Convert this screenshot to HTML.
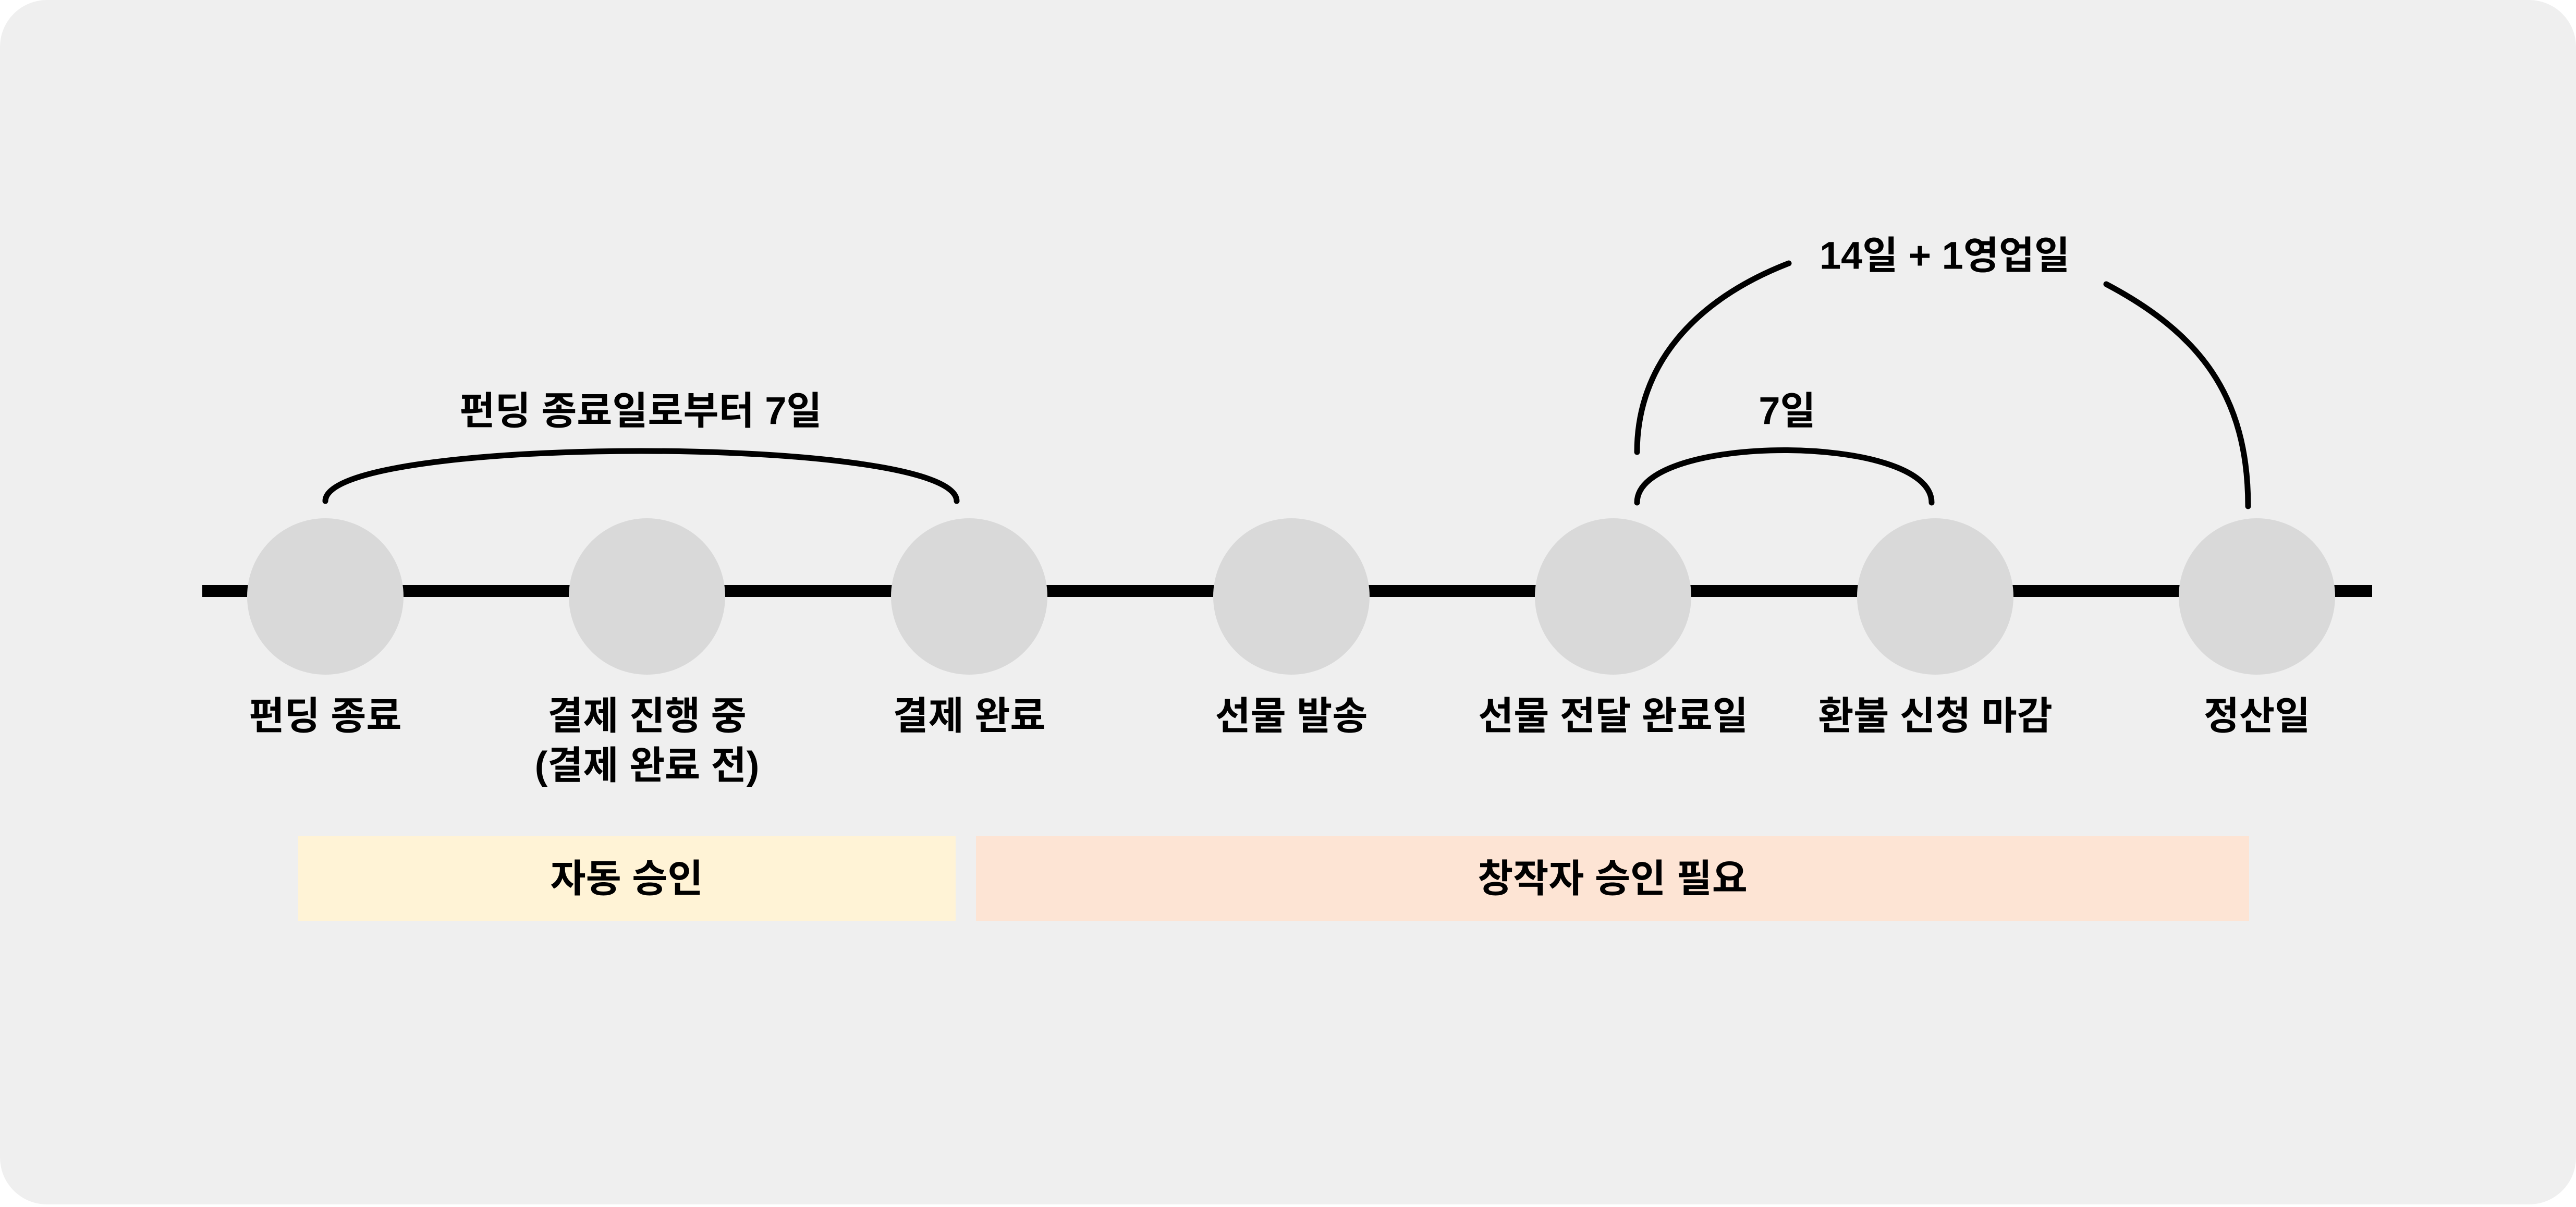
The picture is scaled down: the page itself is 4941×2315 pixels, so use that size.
<!DOCTYPE html>
<html><head><meta charset="utf-8"><style>
html,body{margin:0;padding:0;background:#fff;}
body{width:4941px;height:2310px;overflow:hidden;}
svg text{font-family:"Liberation Sans","Noto Sans CJK KR",sans-serif;font-weight:700;fill:#000;}
</style></head><body>
<svg width="4941" height="2310" viewBox="0 0 4941 2310" xmlns="http://www.w3.org/2000/svg">
<rect x="0" y="0" width="4941" height="2310" rx="90" fill="#efefef"/>
<rect x="388" y="1122" width="4162" height="23" fill="#000"/>
<g fill="#d9d9d9">
<circle cx="624" cy="1144" r="150"/>
<circle cx="1241" cy="1144" r="150"/>
<circle cx="1859" cy="1144" r="150"/>
<circle cx="2477" cy="1144" r="150"/>
<circle cx="3094" cy="1144" r="150"/>
<circle cx="3712" cy="1144" r="150"/>
<circle cx="4329" cy="1144" r="150"/>
</g>
<g fill="none" stroke="#000" stroke-width="11" stroke-linecap="round">
<path d="M624 961 C624 833 1835 833 1835 961"/>
<path d="M3140 964 C3140 830 3705 830 3705 964"/>
<path d="M3140 867 C3140 700 3250 575 3431 505"/>
<path d="M4040 545 C4220 640 4312 760 4312 971"/>
</g>
<rect x="572" y="1603" width="1261" height="163" fill="#fff3d6"/>
<rect x="1872" y="1603" width="2442" height="163" fill="#fde4d4"/>
<g font-size="74" text-anchor="middle" dominant-baseline="central">
<text x="624" y="1373">펀딩 종료</text>
<text x="1241" y="1373">결제 진행 중</text>
<text x="1241" y="1468">(결제 완료 전)</text>
<text x="1859" y="1373">결제 완료</text>
<text x="2477" y="1373">선물 발송</text>
<text x="3094" y="1373">선물 전달 완료일</text>
<text x="3712" y="1373">환불 신청 마감</text>
<text x="4329" y="1373">정산일</text>
<text x="1202" y="1685">자동 승인</text>
<text x="3093" y="1685">창작자 승인 필요</text>
<text x="1229" y="788">펀딩 종료일로부터 7일</text>
<text x="3428" y="788">7일</text>
<text x="3730" y="490">14일 + 1영업일</text>
</g>
</svg>
</body></html>
